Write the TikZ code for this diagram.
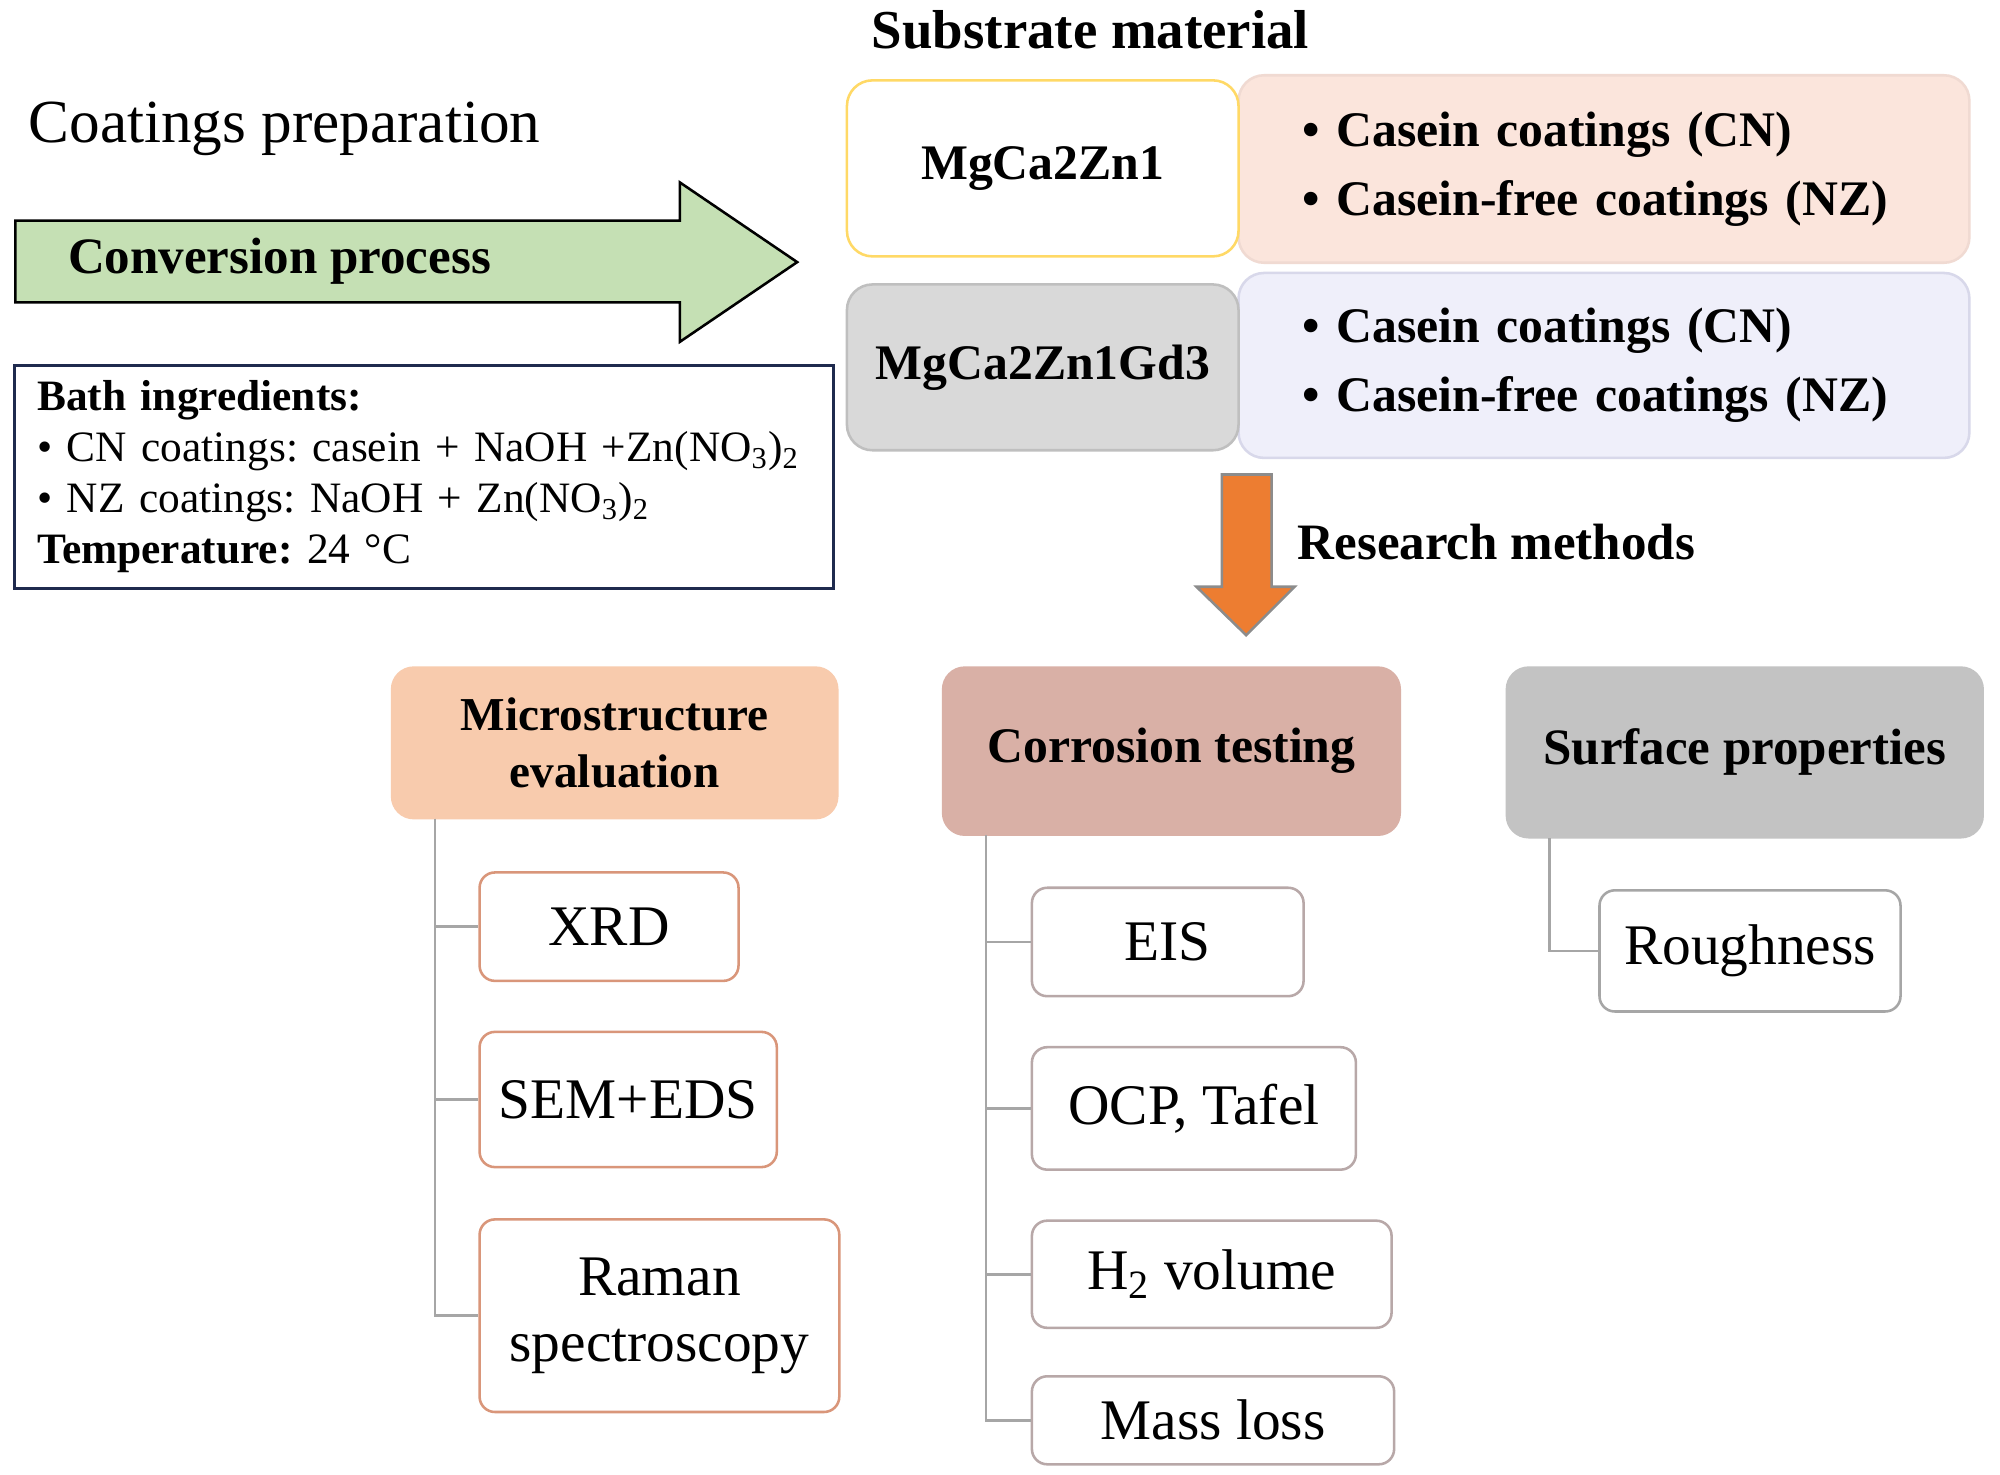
\documentclass[tikz,border=0pt]{standalone}
\usepackage{fontspec}
\setmainfont{Liberation Serif}
\frenchspacing
\definecolor{arrG}{HTML}{C5E0B4}
\definecolor{navy}{HTML}{1F2A4E}
\definecolor{yel}{HTML}{FFD966}
\definecolor{pinkF}{HTML}{FBE5DC}
\definecolor{pinkB}{HTML}{F0DAD2}
\definecolor{grayF}{HTML}{D9D9D9}
\definecolor{grayB}{HTML}{BFBFBF}
\definecolor{lavF}{HTML}{EFEFFA}
\definecolor{lavB}{HTML}{D8D8EA}
\definecolor{orng}{HTML}{ED7D31}
\definecolor{orngB}{HTML}{8C8C8C}
\definecolor{microF}{HTML}{F8CBAD}
\definecolor{corrF}{HTML}{D9B0A6}
\definecolor{surfF}{HTML}{C3C3C3}
\definecolor{leafM}{HTML}{D9967A}
\definecolor{leafC}{HTML}{B8A8A8}
\definecolor{leafS}{HTML}{A6A6A6}
\definecolor{treeC}{HTML}{A6A6A6}
\newcommand\fsz[2]{\fontsize{#1}{#2}\selectfont}
\tikzset{
  lbl/.style={inner sep=0pt},
  boxnw/.style={anchor=north west, inner sep=0pt, align=center, rounded corners=9pt},
  hdr/.style={boxnw, draw=none},
  leaf/.style={boxnw, fill=white, line width=1pt, rounded corners=6pt, font=\fsz{22.5}{26}},
  leafm/.style={leaf, draw=leafM},
  leafc/.style={leaf, draw=leafC},
  leafs/.style={leaf, draw=leafS},
  tree/.style={draw=treeC, line width=1pt},
}
\begin{document}
\begin{tikzpicture}[x=0.5pt,y=-0.5pt]
\useasboundingbox[fill=white] (0,0) rectangle (1568,1156);

% titles
\node[lbl, font=\fsz{21.5}{25}\bfseries] (subst) at (855,23) {Substrate material};
\node[lbl, font=\fsz{24}{28}, anchor=west] (coat) at (22,101) {Coatings preparation};

% green arrow
\draw[fill=arrG, line width=1pt] (12,173) -- (533,173) -- (533,143) -- (625,205.5) -- (533,268) -- (533,237) -- (12,237) -- cycle;
\node[lbl, font=\fsz{20}{23}\bfseries, anchor=west] (conv) at (53,205) {Conversion process};

% bath box
\node[draw=navy, line width=1.2pt, anchor=north west, minimum width=321pt, minimum height=87.5pt,
      text width=303pt, inner xsep=9pt, inner ysep=0pt, align=left, font=\fsz{17}{20}] (bath) at (10,285)
 {\textbf{Bath ingredients:}\\
  • CN coatings: casein + NaOH +Zn(NO\textsubscript{3})\textsubscript{2}\\
  • NZ coatings: NaOH + Zn(NO\textsubscript{3})\textsubscript{2}\\
  \textbf{Temperature:} 24 °C};

% substrate boxes
\node[draw=pinkB, fill=pinkF, line width=1pt, rounded corners=10pt, anchor=north west, minimum height=73.5pt,
      text width=236.5pt, inner xsep=25pt, inner ysep=0pt, align=left, font=\fsz{19.5}{27}\bfseries] (pk) at (970,58)
 {• Casein coatings (CN)\\ • Casein-free coatings (NZ)};
\node[draw=lavB, fill=lavF, line width=1pt, rounded corners=10pt, anchor=north west, minimum height=72.5pt,
      text width=236.5pt, inner xsep=25pt, inner ysep=0pt, align=left, font=\fsz{19.5}{27}\bfseries] (lav) at (970,213)
 {• Casein coatings (CN)\\ • Casein-free coatings (NZ)};
\node[boxnw, draw=yel, fill=white, line width=1pt, rounded corners=10pt, minimum width=153.5pt, minimum height=69pt,
      font=\fsz{19.5}{23}\bfseries] (mg1) at (663,62) {MgCa2Zn1};
\node[boxnw, draw=grayB, fill=grayF, line width=1pt, rounded corners=10pt, minimum width=153.5pt, minimum height=65pt,
      font=\fsz{19.5}{23}\bfseries] (mg2) at (663,222) {MgCa2Zn1Gd3};

% orange arrow
\draw[fill=orng, draw=orngB, line width=1pt] (958,372) -- (997,372) -- (997,460) -- (1015,460) -- (977,498) -- (938,460) -- (958,460) -- cycle;
\node[lbl, font=\fsz{20}{23}\bfseries, anchor=west] (res) at (1017,425) {Research methods};

% headers
\node[hdr, fill=microF, minimum width=175.5pt, minimum height=60pt, font=\fsz{18.5}{22.5}\bfseries] (micro) at (306,522) {Microstructure\\evaluation};
\node[hdr, fill=corrF, minimum width=180pt, minimum height=66.5pt, font=\fsz{19.5}{23}\bfseries] (corr) at (738,522) {Corrosion testing};
\node[hdr, fill=surfF, minimum width=187.5pt, minimum height=67.5pt, font=\fsz{20}{23}\bfseries] (surf) at (1180,522) {Surface properties};

% leaves
\node[leafm, minimum width=101.5pt, minimum height=42.5pt] (xrd) at (375,683) {XRD};
\node[leafm, minimum width=116.5pt, minimum height=53pt] (sem) at (375,808) {SEM+EDS};
\node[leafm, minimum width=141pt, minimum height=75.5pt] (raman) at (375,955) {Raman\\spectroscopy};

\node[leafc, minimum width=106.5pt, minimum height=42.5pt] (eis) at (808,695) {EIS};
\node[leafc, minimum width=127pt, minimum height=48pt] (ocp) at (808,820) {OCP, Tafel};
\node[leafc, minimum width=141pt, minimum height=42pt] (h2) at (808,956) {H\textsubscript{2} volume};
\node[leafc, minimum width=142pt, minimum height=34.5pt] (mass) at (808,1078) {Mass loss};

\node[leafs, minimum width=118pt, minimum height=47.5pt] (rough) at (1253,697) {Roughness};

% tree connectors
\coordinate (mt) at (341,642);
\coordinate (ct) at (773,655);
\coordinate (st) at (1215,657);
\draw[tree] (mt) |- (xrd.west);
\draw[tree] (mt) |- (sem.west);
\draw[tree] (mt) |- (raman.west);
\draw[tree] (ct) |- (eis.west);
\draw[tree] (ct) |- (ocp.west);
\draw[tree] (ct) |- (h2.west);
\draw[tree] (ct) |- (mass.west);
\draw[tree] (st) |- (rough.west);
\end{tikzpicture}
\end{document}
